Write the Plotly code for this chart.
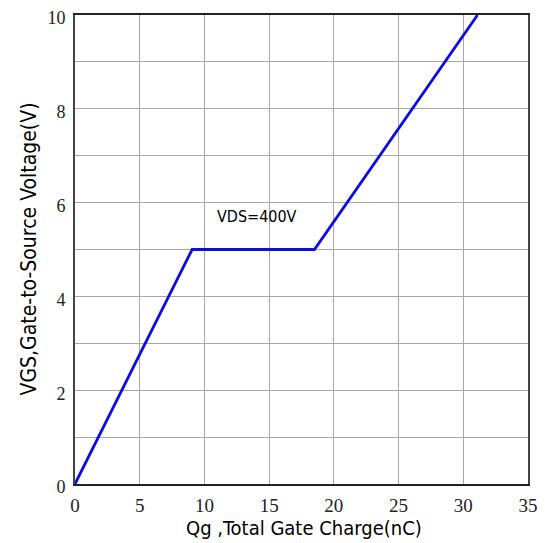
import plotly.graph_objects as go

qg = [0, 9.05, 18.5, 31.1]
vgs = [0, 5, 5, 10]
x_ticks = [0, 5, 10, 15, 20, 25, 30, 35]
y_ticks = [0, 2, 4, 6, 8, 10]
y_grid = [0, 1, 2, 3, 4, 5, 6, 7, 8, 9, 10]
label_text = "VDS=400V"
label_pos = (14.1, 5.7)
x_title = "Qg ,Total Gate Charge(nC)"
y_title = "VGS,Gate-to-Source Voltage(V)"

serif = "Liberation Serif, Times New Roman, serif"
narrow = "Liberation Sans Narrow, DejaVu Sans Condensed, Arial Narrow, DejaVu Sans, sans-serif"

fig = go.Figure()
fig.add_trace(go.Scatter(x=qg, y=vgs, mode="lines",
                         line=dict(color="#0c0ce6", width=2.8), showlegend=False))
fig.add_annotation(x=label_pos[0], y=label_pos[1], text=label_text, showarrow=False,
                   font=dict(family=narrow, size=16, color="black"))
fig.add_annotation(xref="paper", yref="paper", x=0.5055, y=0, yshift=-44,
                   text=x_title, showarrow=False, xanchor="center", yanchor="middle",
                   font=dict(family=narrow, size=20, color="black"))
fig.add_annotation(xref="paper", yref="paper", x=0, y=0.5, xshift=-47,
                   text=y_title, showarrow=False, textangle=-90,
                   xanchor="center", yanchor="middle",
                   font=dict(family=narrow, size=21, color="black"))

# page body has an 8px margin; compensate so the plot lands where the reference has it
fig.update_layout(
    width=548, height=543,
    margin=dict(l=67, r=28, t=7, b=67, autoexpand=False),
    paper_bgcolor="white", plot_bgcolor="white",
    xaxis=dict(range=[0, 35], tickvals=x_ticks, ticktext=[str(v) for v in x_ticks],
               showgrid=True, gridcolor="#a8a8a8", gridwidth=1,
               showline=True, linecolor="#222", linewidth=2, mirror=True,
               zeroline=False, ticks="", automargin=False, ticklabelstandoff=3,
               ticklabeloverflow="allow",
               tickfont=dict(family=serif, size=19, color="#222")),
    yaxis=dict(range=[0, 10], tickvals=y_ticks, ticktext=[str(v) for v in y_ticks],
               showgrid=False, automargin=False, ticklabelstandoff=4,
               ticklabeloverflow="allow", ticklabelshift=3,
               showline=True, linecolor="#444", linewidth=2, mirror=True,
               zeroline=False, ticks="",
               tickfont=dict(family=serif, size=18, color="#222"),
               minor=dict(tickvals=y_grid, showgrid=True, gridcolor="#a8a8a8", gridwidth=1)),
)

fig.write_html("out.html")
